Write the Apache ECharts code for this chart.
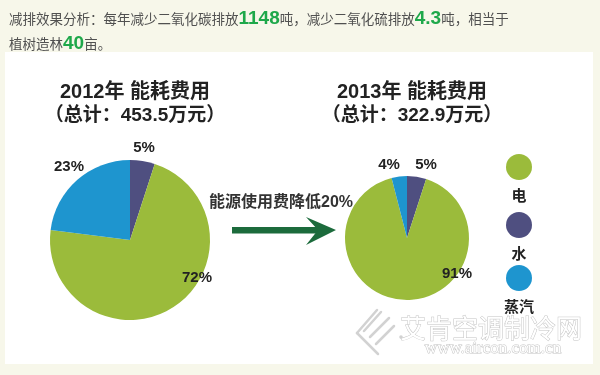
<!DOCTYPE html>
<html><head><meta charset="utf-8">
<script src="https://cdn.jsdelivr.net/npm/echarts@6/dist/echarts.min.js"></script>
<style>html,body{margin:0;padding:0;background:#f7f7ea}#c{width:600px;height:375px}</style>
</head><body><div id="c"></div>
<script>
// ---- data ----
const categories = ['电', '水', '蒸汽'];
const years = ['2012', '2013'];
const totals = [453.5, 322.9];          // 万元
const share2012 = [72, 5, 23];          // % per category
const share2013 = [91, 5, 4];
const reductionPct = 20;
const co2Tons = 1148;
const so2Tons = 4.3;
const treeMu = 40;

// ---- styles / layout ----
const colors = ['#9bbb3b', '#4f4f80', '#1e95cf'];
const sliceOrder = [1, 0, 2];           // clockwise from 12 o'clock: 水, 电, 蒸汽
const pieCenters = [[130, 240], [407, 238]];
const pieRadius = [80, 62];
// label anchor per category (电, 水, 蒸汽)
const labelSpots = [
  [[197, 278], [144, 148], [69, 167]],
  [[457, 274], [426, 165], [389, 165]]
];
const CJK = "'Liberation Sans','Noto Sans CJK SC',sans-serif";

const chart = echarts.init(document.getElementById('c'), null, {renderer: 'canvas'});

function pieSeries(idx, shares) {
  return {
    type: 'pie',
    center: pieCenters[idx],
    radius: pieRadius[idx],
    startAngle: 90,
    clockwise: true,
    avoidLabelOverlap: false,
    silent: true,
    z: 3,
    data: sliceOrder.map(i => ({
      name: categories[i],
      value: shares[i],
      itemStyle: {color: colors[i]}
    })),
    label: {
      show: true,
      position: 'outside',
      formatter: '{c}%',
      fontFamily: CJK,
      fontWeight: 'bold',
      fontSize: 15,
      color: '#222'
    },
    labelLine: {show: false},
    labelLayout: function (p) {
      const ci = sliceOrder[p.dataIndex];
      const s = labelSpots[idx][ci];
      return {x: s[0], y: s[1], align: 'center', verticalAlign: 'middle'};
    }
  };
}

const legendY = [167, 225, 278];
const legendGraphics = [];
categories.forEach((c, i) => {
  legendGraphics.push({
    type: 'circle', shape: {cx: 519, cy: legendY[i], r: 13},
    style: {fill: colors[i]}, silent: true, z: 5
  });
  legendGraphics.push({
    type: 'text', x: 519, y: legendY[i] + 30,
    style: {text: c, fill: '#222', font: "bold 15px " + CJK, align: 'center', verticalAlign: 'middle'},
    silent: true, z: 5
  });
});

function pieTitle(i) {
  return {
    left: pieCenters[i][0], top: 75, textAlign: 'center',
    text: '{a|' + years[i] + '年 能耗费用}\n{b|（总计：' + totals[i] + '万元）}',
    textStyle: {
      fontFamily: CJK, fontWeight: 'bold', color: '#222', lineHeight: 24, align: 'center',
      rich: {
        a: {fontFamily: CJK, fontSize: 20, fontWeight: 'bold', color: '#222', lineHeight: 24, align: 'center'},
        b: {fontFamily: CJK, fontSize: 19, fontWeight: 'bold', color: '#222', lineHeight: 24, align: 'center'}
      }
    }
  };
}

const wm = {stroke: '#d2d2d2', lineWidth: 2.5, lineCap: 'round', fill: null};
const logo = [
  [[357, 333], [377, 310]],
  [[357, 333], [378, 354]],
  [[364, 331], [381, 312]],
  [[370, 337], [389, 318]],
  [[376, 344], [394, 326]]
].map(p => ({type: 'polyline', shape: {points: p}, style: wm, silent: true}));
logo.push({type: 'circle', shape: {cx: 401, cy: 337, r: 1.8}, style: {fill: '#d2d2d2'}, silent: true});

const option = {
  backgroundColor: '#f7f7ea',
  animation: false,
  title: [
    {
      left: 4, top: 1,
      text: '减排效果分析：每年减少二氧化碳排放{n|' + co2Tons + '}吨，减少二氧化硫排放{n|' + so2Tons + '}吨，相当于\n植树造林{n|' + treeMu + '}亩。',
      textStyle: {
        fontFamily: "'Noto Sans CJK SC',sans-serif", fontSize: 13.5, fontWeight: 'normal',
        color: '#505050', lineHeight: 25,
        rich: {n: {fontFamily: "'Liberation Sans',Arial,sans-serif", fontSize: 19, fontWeight: 'bold', color: '#1ea84a', lineHeight: 25}}
      }
    },
    pieTitle(0),
    pieTitle(1)
  ],
  graphic: [
    {type: 'rect', shape: {x: 5, y: 52, width: 588, height: 312}, style: {fill: '#ffffff'}, silent: true, z: -10},
    {type: 'text', x: 281, y: 203,
      style: {text: '能源使用费降低' + reductionPct + '%', fill: '#333', font: "bold 16px " + CJK, align: 'center', verticalAlign: 'middle'}, silent: true},
    {type: 'rect', shape: {x: 232, y: 227, width: 86, height: 6.5}, style: {fill: '#1c6b3c'}, silent: true},
    {type: 'polygon', shape: {points: [[306, 217], [336, 230], [306, 245], [318, 230]]}, style: {fill: '#1c6b3c'}, silent: true},
    {type: 'text', x: 491, y: 328,
      style: {text: '艾肯空调制冷网', fill: '#ffffff', stroke: '#c4c4c4', lineWidth: 1, font: "26px 'Noto Sans CJK SC'", align: 'center', verticalAlign: 'middle'}, silent: true},
    {type: 'text', x: 493, y: 349,
      style: {text: 'www.aircon.com.cn', fill: '#ffffff', stroke: '#c4c4c4', lineWidth: 1, font: "17px 'Liberation Serif'", align: 'center', verticalAlign: 'middle'}, silent: true}
  ].concat(logo, legendGraphics),
  series: [pieSeries(0, share2012), pieSeries(1, share2013)]
};
chart.setOption(option);
</script>
</body></html>
